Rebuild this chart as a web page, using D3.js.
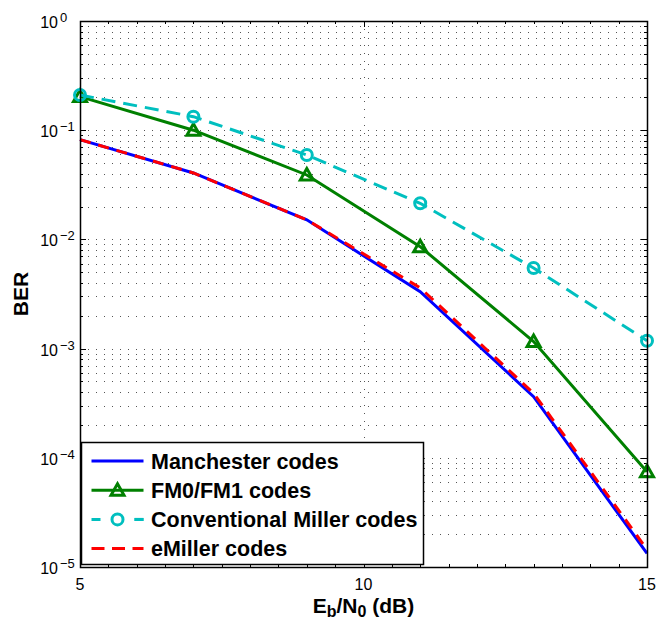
<!DOCTYPE html>
<html>
<head>
<meta charset="utf-8">
<script src="https://cdn.jsdelivr.net/npm/d3@7"></script>
<style>
  body { margin: 0; background: #fff; }
  svg { font-family: "Liberation Sans", Arial, Helvetica, sans-serif; }
</style>
</head>
<body>
<script>
// Eb/N0 sample points (dB)
const ebn0 = [5, 7, 9, 11, 13, 15];
// BER curves
const manchester = [0.082, 0.0406, 0.0151, 0.00332, 3.63e-4, 1.33e-5];
const fm0 = [0.203, 0.1, 0.0389, 0.00857, 1.16e-3, 7.46e-5];
const miller = [0.21, 0.133, 0.0593, 0.0214, 0.00547, 1.18e-3];
const emiller = [0.082, 0.0406, 0.0151, 0.0036, 3.9e-4, 1.45e-5];

const seriesNames = ["Manchester codes", "FM0/FM1 codes", "Conventional Miller codes", "eMiller codes"];
const xTicks = [5, 10, 15];
const yExps = [0, -1, -2, -3, -4, -5];

const W = 662, H = 623;
const margin = {top: 21, right: 15, bottom: 56, left: 80};
const width = W - margin.left - margin.right;
const height = H - margin.top - margin.bottom;

var svg = d3.select("body").append("svg")
  .attr("width", W).attr("height", H);
svg.append("rect").attr("width", W).attr("height", H).attr("fill", "#fff");

var g = svg.append("g")
  .attr("transform", "translate(" + margin.left + "," + margin.top + ")");

var x = d3.scaleLinear().domain([5, 15]).range([0, width]);
var y = d3.scaleLog().domain([1e-5, 1]).range([height, 0]);

// minor values for log axis
var minorVals = [];
for (var e = -5; e < 0; e++) {
  for (var k = 2; k <= 9; k++) minorVals.push(k * Math.pow(10, e));
}
var majorVals = yExps.map(function(e) { return Math.pow(10, e); });

// grid (dotted)
var grid = g.append("g").attr("stroke", "#555").attr("stroke-width", 1)
  .attr("stroke-dasharray", "1,7");
grid.selectAll(".hg").data(minorVals.concat(majorVals.slice(1, -1))).enter()
  .append("line")
  .attr("x1", 0).attr("x2", width)
  .attr("y1", function(d) { return Math.round(y(d)) + 0.5; })
  .attr("y2", function(d) { return Math.round(y(d)) + 0.5; });
grid.selectAll(".vg").data([10]).enter()
  .append("line")
  .attr("y1", 0).attr("y2", height)
  .attr("x1", function(d) { return Math.round(x(d)) + 0.5; })
  .attr("x2", function(d) { return Math.round(x(d)) + 0.5; });

// ticks (inside, on all four sides)
var ticks = g.append("g").attr("stroke", "#000").attr("stroke-width", 1);
majorVals.forEach(function(v) {
  var yy = Math.round(y(v)) + 0.5;
  ticks.append("line").attr("x1", 0).attr("x2", 6).attr("y1", yy).attr("y2", yy);
  ticks.append("line").attr("x1", width - 6).attr("x2", width).attr("y1", yy).attr("y2", yy);
});
minorVals.forEach(function(v) {
  var yy = Math.round(y(v)) + 0.5;
  ticks.append("line").attr("x1", 0).attr("x2", 3).attr("y1", yy).attr("y2", yy);
  ticks.append("line").attr("x1", width - 3).attr("x2", width).attr("y1", yy).attr("y2", yy);
});
d3.range(5, 15.01, 0.5).forEach(function(v) {
  var xx = Math.round(x(v)) + 0.5;
  var len = (v % 5 === 0) ? 6 : 3;
  ticks.append("line").attr("x1", xx).attr("x2", xx).attr("y1", height).attr("y2", height - len);
  ticks.append("line").attr("x1", xx).attr("x2", xx).attr("y1", 0).attr("y2", len);
});

// tick labels
var ylab = g.append("g").attr("fill", "#000");
yExps.forEach(function(e) {
  var yy = y(Math.pow(10, e));
  ylab.append("text").attr("x", -22).attr("y", yy + 7)
    .attr("text-anchor", "end").attr("font-size", 16).text("10");
  ylab.append("text").attr("x", -20).attr("y", yy + 1)
    .attr("font-size", 13).text(e === 0 ? "0" : "\u2212" + (-e));
});
g.selectAll(".xtl").data(xTicks).enter().append("text")
  .attr("x", function(d) { return x(d); })
  .attr("y", height + 23)
  .attr("text-anchor", "middle").attr("font-size", 16)
  .text(function(d) { return d; });

// axis labels
var xl = g.append("text").attr("x", width / 2).attr("y", height + 46)
  .attr("text-anchor", "middle").attr("font-size", 21).attr("font-weight", "bold");
xl.append("tspan").text("E");
xl.append("tspan").attr("dy", 4).attr("font-size", 16).text("b");
xl.append("tspan").attr("dy", -4).text("/N");
xl.append("tspan").attr("dy", 4).attr("font-size", 16).text("0");
xl.append("tspan").attr("dy", -4).text(" (dB)");

svg.append("text")
  .attr("transform", "translate(28," + (margin.top + height / 2) + ")rotate(-90)")
  .attr("text-anchor", "middle").attr("font-size", 21).attr("font-weight", "bold")
  .text("BER");

// curves
var line = d3.line()
  .x(function(d, i) { return x(ebn0[i]); })
  .y(function(d) { return y(d); });

var plot = g.append("g");
var styles = [
  {data: manchester, color: "#0000ff", dash: null, marker: null},
  {data: fm0, color: "#008000", dash: null, marker: "tri"},
  {data: miller, color: "#00bfbf", dash: "14,8", marker: "circ"},
  {data: emiller, color: "#ff0000", dash: "11,8", marker: null}
];

function drawMarker(sel, type, color) {
  if (type === "tri") {
    sel.append("path")
      .attr("d", "M0,-6.5 L6.5,5 L-6.5,5 Z")
      .attr("fill", "none").attr("stroke", color).attr("stroke-width", 3)
      .attr("stroke-linejoin", "miter");
  } else if (type === "circ") {
    sel.append("circle").attr("r", 5.5)
      .attr("fill", "none").attr("stroke", color).attr("stroke-width", 3);
  }
}

styles.forEach(function(s) {
  plot.append("path")
    .datum(s.data)
    .attr("d", line)
    .attr("fill", "none")
    .attr("stroke", s.color)
    .attr("stroke-width", 3)
    .attr("stroke-dasharray", s.dash);
  if (s.marker) {
    s.data.forEach(function(d, i) {
      var m = plot.append("g")
        .attr("transform", "translate(" + x(ebn0[i]) + "," + y(d) + ")");
      drawMarker(m, s.marker, s.color);
    });
  }
});

// axes box
g.append("rect").attr("x", 0.5).attr("y", 0.5)
  .attr("width", width).attr("height", height)
  .attr("fill", "none").attr("stroke", "#000").attr("stroke-width", 1.5);

// legend
var lg = svg.append("g").attr("transform", "translate(81,442)");
lg.append("rect").attr("x", 0.5).attr("y", 0.5).attr("width", 342).attr("height", 122)
  .attr("fill", "#fff").attr("stroke", "#000").attr("stroke-width", 1.5);
styles.forEach(function(s, i) {
  var yy = 19 + i * 29.2;
  var row = lg.append("g").attr("transform", "translate(0," + yy + ")");
  row.append("line").attr("x1", 10.5).attr("x2", 62.5).attr("y1", 0).attr("y2", 0)
    .attr("stroke", s.color).attr("stroke-width", 3)
    .attr("stroke-dasharray", s.marker === "circ" ? "9,34" : (s.dash ? "13,7.5" : null));
  if (s.marker === "circ") {
    row.append("line").attr("x1", 53.5).attr("x2", 62.5).attr("y1", 0).attr("y2", 0)
      .attr("stroke", s.color).attr("stroke-width", 3);
  }
  if (s.marker) {
    var m = row.append("g").attr("transform", "translate(36.5,0)");
    drawMarker(m, s.marker, s.color);
  }
  row.append("text").attr("x", 70).attr("y", 7.5)
    .attr("font-size", 21.5).attr("font-weight", "bold").attr("fill", "#000")
    .text(seriesNames[i]);
});
</script>
</body>
</html>
